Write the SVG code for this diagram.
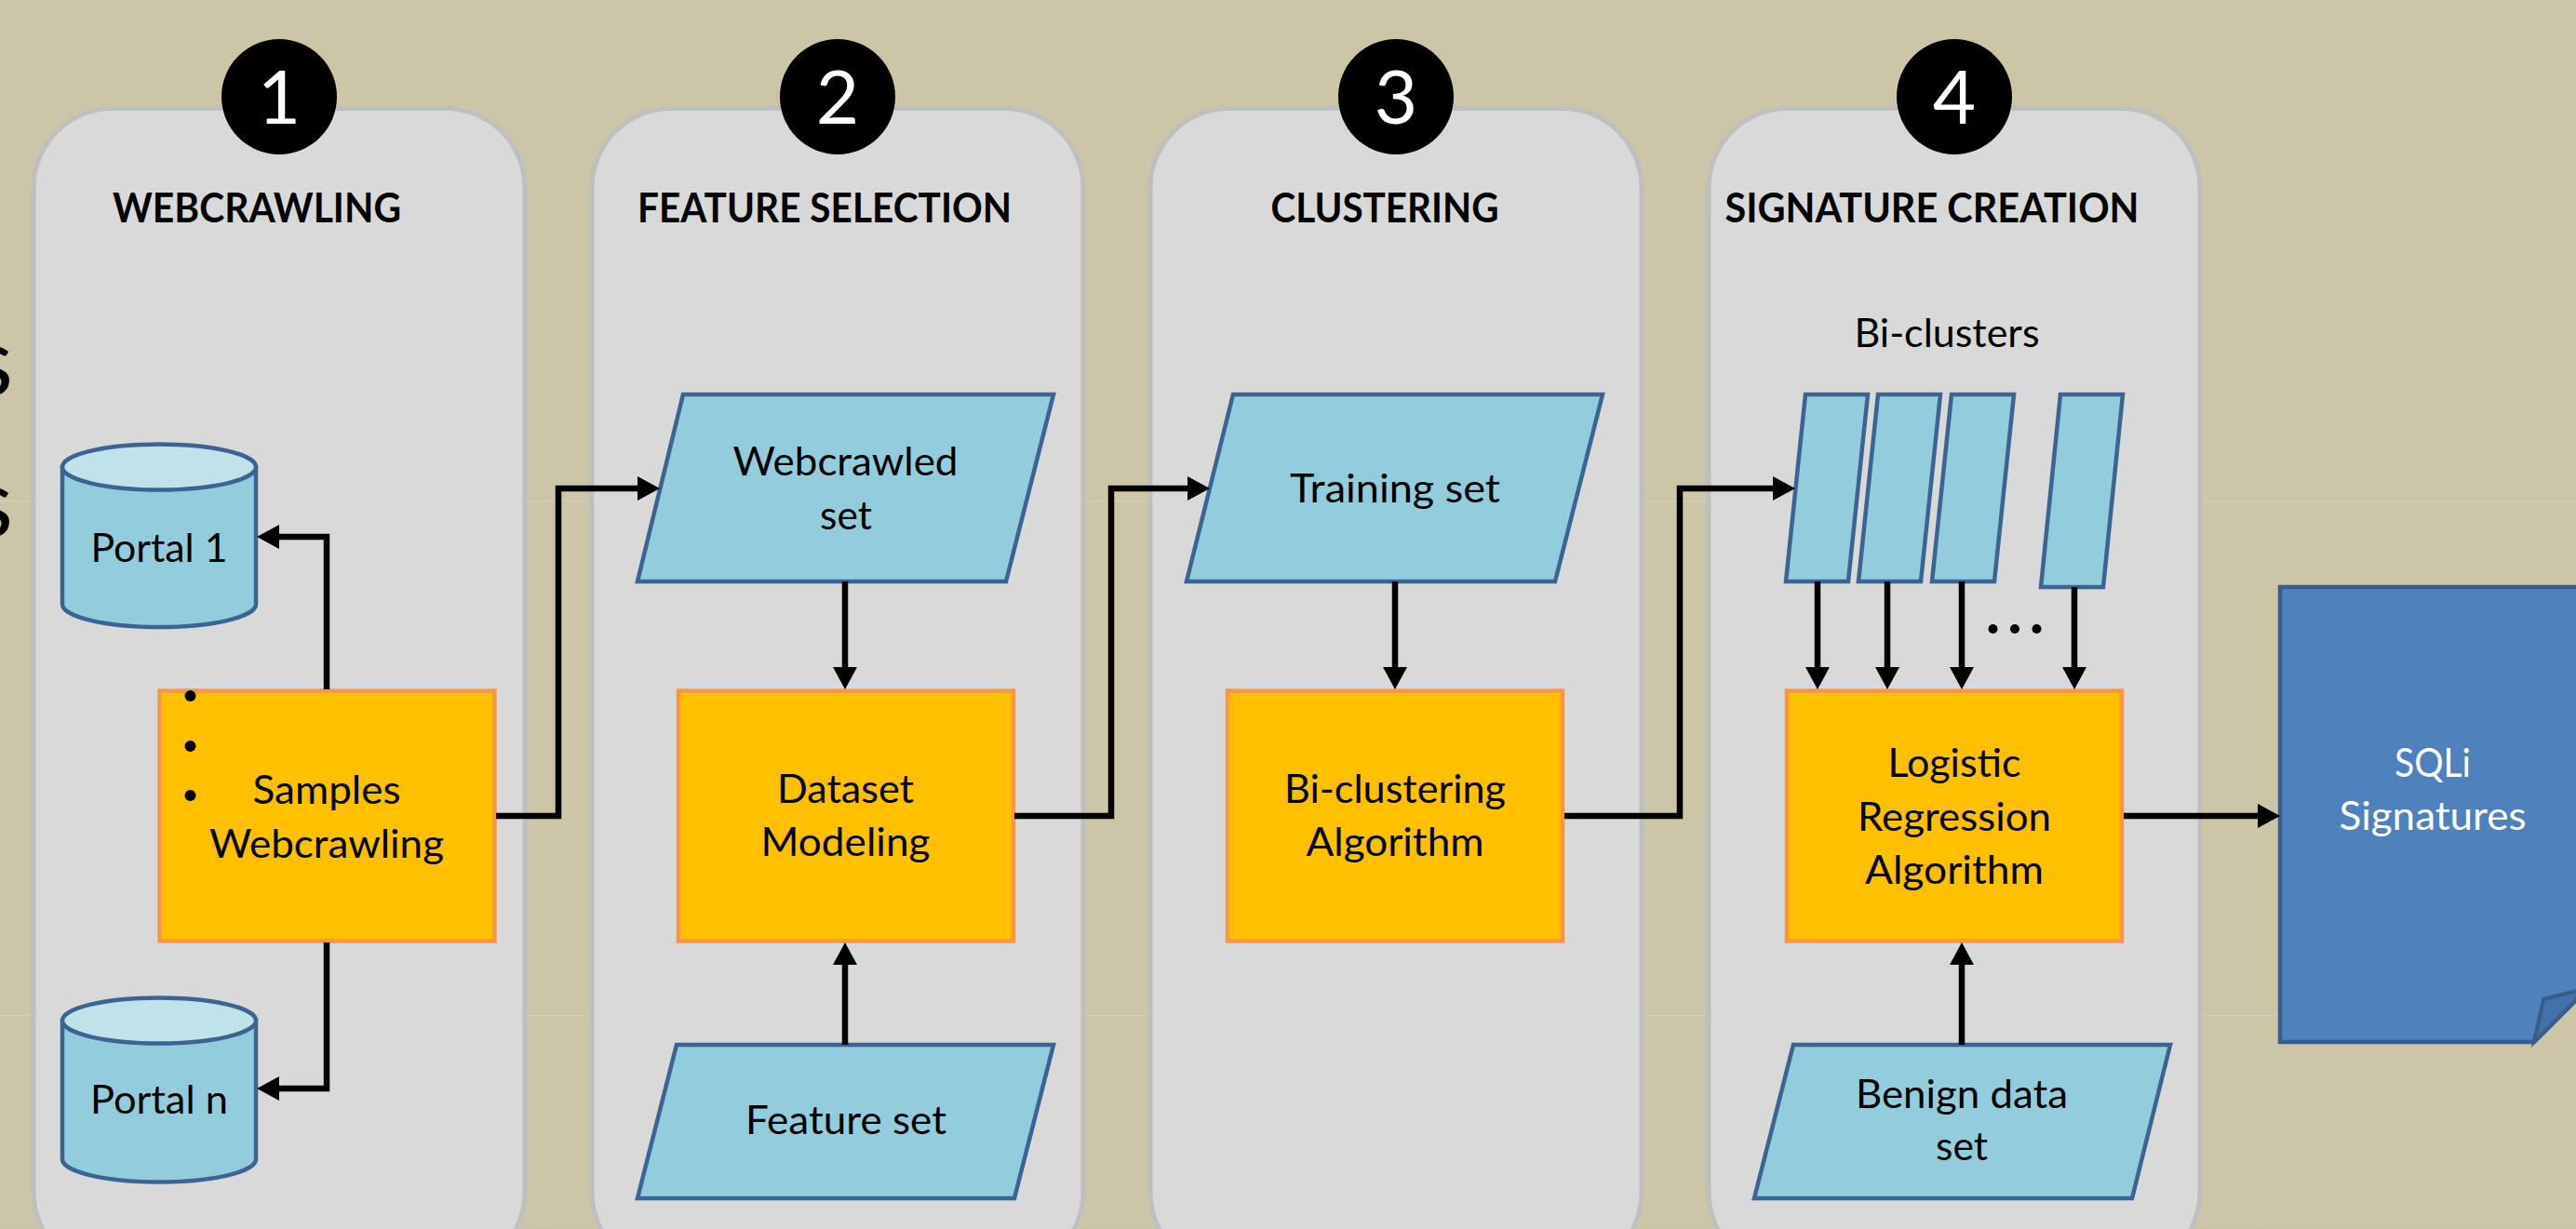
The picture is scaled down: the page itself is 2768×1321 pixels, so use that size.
<svg xmlns="http://www.w3.org/2000/svg" width="2768" height="1321" viewBox="0 0 2768 1321">
  <defs>
    <!-- fine khaki texture of the slide background -->
    <pattern id="hatch" width="4" height="4" patternUnits="userSpaceOnUse">
      <rect width="4" height="4" fill="#cdc6a9"/>
      <rect x="0" y="0" width="1" height="1" fill="#c4bd9f"/>
      <rect x="2" y="2" width="1" height="1" fill="#c4bd9f"/>
    </pattern>
    <marker id="arrow" viewBox="0 0 24 26" refX="11" refY="13" markerWidth="24" markerHeight="26" markerUnits="userSpaceOnUse" orient="auto">
      <path d="M0,0 L24,13 L0,26 Z" fill="#000"/>
    </marker>
    <style>
      .panel{fill:#d9d9d9;stroke:#bfbfbf;stroke-width:5}
      .badge{fill:#000}
      .num{font-family:Lato,"Open Sans",sans-serif;font-size:80px;fill:#fff;text-anchor:middle}
      .title{font-family:Lato,"Open Sans",sans-serif;font-weight:700;font-size:43px;fill:#000;text-anchor:middle}
      .data{fill:#93cddd;stroke:#3b6493;stroke-width:4.5;stroke-linejoin:miter}
      .cyltop{fill:#bfe2eb;stroke:#3b6493;stroke-width:4.5}
      .proc{fill:#ffc000;stroke:#f79646;stroke-width:4.5}
      .lbl{font-family:Lato,"Open Sans",sans-serif;font-size:43px;fill:#000;text-anchor:middle}
      .wlbl{font-family:Lato,"Open Sans",sans-serif;font-size:43px;fill:#fff;text-anchor:middle}
      .edge{font-family:Lato,"Open Sans",sans-serif;font-size:102px;fill:#000;text-anchor:end}
      .wire{fill:none;stroke:#000;stroke-width:6.5;stroke-linejoin:miter;marker-end:url(#arrow)}
      .doc{fill:#4f81bd;stroke:#385d8a;stroke-width:4.5;stroke-linejoin:miter}
      .flap{fill:#4270a8;stroke:#385d8a;stroke-width:4}
      .dot{fill:#000}
    </style>
  </defs>

  <!-- slide background -->
  <g id="background">
    <rect width="2768" height="1321" fill="url(#hatch)"/>
    <line x1="0" y1="538.5" x2="2768" y2="538.5" stroke="#d5cfb5" stroke-width="1"/>
    <line x1="0" y1="1091.5" x2="2768" y2="1091.5" stroke="#d5cfb5" stroke-width="1"/>
    <text class="edge" x="14" y="425">s</text>
    <text class="edge" x="14" y="577">s</text>
  </g>

  <!-- stage panels -->
  <g id="stage1">
    <rect class="panel" x="36" y="116.5" width="528" height="1250" rx="85" ry="85"/>
    <circle class="badge" cx="300" cy="104" r="62"/>
    <text class="num" x="300" y="133">1</text>
    <text class="title" x="276" y="239" textLength="310" lengthAdjust="spacingAndGlyphs">WEBCRAWLING</text>
  </g>
  <g id="stage2">
    <rect class="panel" x="636" y="116.5" width="528" height="1250" rx="85" ry="85"/>
    <circle class="badge" cx="900" cy="104" r="62"/>
    <text class="num" x="900" y="133">2</text>
    <text class="title" x="886" y="239" textLength="402" lengthAdjust="spacingAndGlyphs">FEATURE SELECTION</text>
  </g>
  <g id="stage3">
    <rect class="panel" x="1236" y="116.5" width="528" height="1250" rx="85" ry="85"/>
    <circle class="badge" cx="1500" cy="104" r="62"/>
    <text class="num" x="1500" y="133">3</text>
    <text class="title" x="1488" y="239" textLength="245" lengthAdjust="spacingAndGlyphs">CLUSTERING</text>
  </g>
  <g id="stage4">
    <rect class="panel" x="1836" y="116.5" width="528" height="1250" rx="85" ry="85"/>
    <circle class="badge" cx="2100" cy="104" r="62"/>
    <text class="num" x="2100" y="133">4</text>
    <text class="title" x="2076" y="239" textLength="445" lengthAdjust="spacingAndGlyphs">SIGNATURE CREATION</text>
  </g>

  <!-- stage 1 nodes -->
  <g id="portal-1">
    <path class="data" d="M67,502 L67,649.5 A104,24.5 0 0 0 275,649.5 L275,502 Z"/>
    <ellipse class="cyltop" cx="171" cy="502" rx="104" ry="24.5"/>
    <text class="lbl" x="171" y="604" textLength="147" lengthAdjust="spacingAndGlyphs">Portal 1</text>
  </g>
  <g id="portal-n">
    <path class="data" d="M67,1097 L67,1246 A104,24.5 0 0 0 275,1246 L275,1097 Z"/>
    <ellipse class="cyltop" cx="171" cy="1097" rx="104" ry="24.5"/>
    <text class="lbl" x="171" y="1197" textLength="148" lengthAdjust="spacingAndGlyphs">Portal n</text>
  </g>
  <g id="samples-webcrawling">
    <rect class="proc" x="171.5" y="742.5" width="360" height="269"/>
    <circle class="dot" cx="204.5" cy="748" r="6"/>
    <circle class="dot" cx="204.5" cy="802" r="6"/>
    <circle class="dot" cx="204.5" cy="855" r="6"/>
    <text class="lbl" x="351" y="864" textLength="159" lengthAdjust="spacingAndGlyphs">Samples</text>
    <text class="lbl" x="351" y="922" textLength="252" lengthAdjust="spacingAndGlyphs">Webcrawling</text>
  </g>

  <!-- stage 2 nodes -->
  <g id="webcrawled-set">
    <polygon class="data" points="734,424 1132,424 1081,625 685,625"/>
    <text class="lbl" x="908.5" y="511" textLength="242" lengthAdjust="spacingAndGlyphs">Webcrawled</text>
    <text class="lbl" x="909" y="569" textLength="56" lengthAdjust="spacingAndGlyphs">set</text>
  </g>
  <g id="dataset-modeling">
    <rect class="proc" x="729" y="742.5" width="360" height="269"/>
    <text class="lbl" x="908.5" y="863" textLength="147" lengthAdjust="spacingAndGlyphs">Dataset</text>
    <text class="lbl" x="908.5" y="920" textLength="182" lengthAdjust="spacingAndGlyphs">Modeling</text>
  </g>
  <g id="feature-set">
    <polygon class="data" points="727,1123 1132,1123 1090,1288 685,1288"/>
    <text class="lbl" x="909" y="1219" textLength="216" lengthAdjust="spacingAndGlyphs">Feature set</text>
  </g>

  <!-- stage 3 nodes -->
  <g id="training-set">
    <polygon class="data" points="1325,424 1722,424 1671,625 1275,625"/>
    <text class="lbl" x="1499" y="540" textLength="226" lengthAdjust="spacingAndGlyphs">Training set</text>
  </g>
  <g id="biclustering-algorithm">
    <rect class="proc" x="1319" y="742.5" width="360" height="269"/>
    <text class="lbl" x="1499" y="863" textLength="238" lengthAdjust="spacingAndGlyphs">Bi-clustering</text>
    <text class="lbl" x="1499" y="920" textLength="191" lengthAdjust="spacingAndGlyphs">Algorithm</text>
  </g>

  <!-- stage 4 nodes -->
  <g id="bi-clusters">
    <text class="lbl" x="2092" y="373" textLength="199" lengthAdjust="spacingAndGlyphs">Bi-clusters</text>
    <polygon class="data" points="1940,424 2007,424 1986,625 1919,625"/>
    <polygon class="data" points="2018,424 2085,424 2064,625 1997,625"/>
    <polygon class="data" points="2097,424 2164,424 2143,625 2076,625"/>
    <polygon class="data" points="2214,424 2281,424 2260,631 2193,631"/>
    <circle class="dot" cx="2141.5" cy="676" r="5"/>
    <circle class="dot" cx="2165" cy="676" r="5"/>
    <circle class="dot" cx="2188.5" cy="676" r="5"/>
  </g>
  <g id="logistic-regression">
    <rect class="proc" x="1920" y="742.5" width="360" height="269"/>
    <text class="lbl" x="2100" y="835" textLength="143" lengthAdjust="spacingAndGlyphs">Logistic</text>
    <text class="lbl" x="2100" y="892.6" textLength="208" lengthAdjust="spacingAndGlyphs">Regression</text>
    <text class="lbl" x="2100" y="949.5" textLength="192" lengthAdjust="spacingAndGlyphs">Algorithm</text>
  </g>
  <g id="benign-data-set">
    <polygon class="data" points="1927,1123 2332,1123 2291,1288 1885,1288"/>
    <text class="lbl" x="2108" y="1191" textLength="228" lengthAdjust="spacingAndGlyphs">Benign data</text>
    <text class="lbl" x="2108" y="1247" textLength="56" lengthAdjust="spacingAndGlyphs">set</text>
  </g>

  <!-- output document -->
  <g id="sqli-signatures">
    <path class="doc" d="M2450,631 H2800 V1043 L2723,1120 H2450 Z"/>
    <polygon class="flap" points="2723,1120 2733,1074 2781,1062"/>
    <text class="wlbl" x="2614" y="835" textLength="82" lengthAdjust="spacingAndGlyphs">SQLi</text>
    <text class="wlbl" x="2614" y="892" textLength="201" lengthAdjust="spacingAndGlyphs">Signatures</text>
  </g>

  <!-- connectors -->
  <g id="connectors">
    <path class="wire" d="M351,741 V577 H289"/>
    <path class="wire" d="M351,1013 V1170 H289"/>
    <path class="wire" d="M533,877 H600 V525 H696"/>
    <path class="wire" d="M908,625 V728"/>
    <path class="wire" d="M908,1123 V1026"/>
    <path class="wire" d="M1090,877 H1194 V525 H1287"/>
    <path class="wire" d="M1499,625 V728"/>
    <path class="wire" d="M1681,877 H1805 V525 H1916"/>
    <path class="wire" d="M1953,625 V728"/>
    <path class="wire" d="M2028,625 V728"/>
    <path class="wire" d="M2108,625 V728"/>
    <path class="wire" d="M2229,631 V728"/>
    <path class="wire" d="M2108,1123 V1026"/>
    <path class="wire" d="M2282,877 H2437"/>
  </g>
</svg>
